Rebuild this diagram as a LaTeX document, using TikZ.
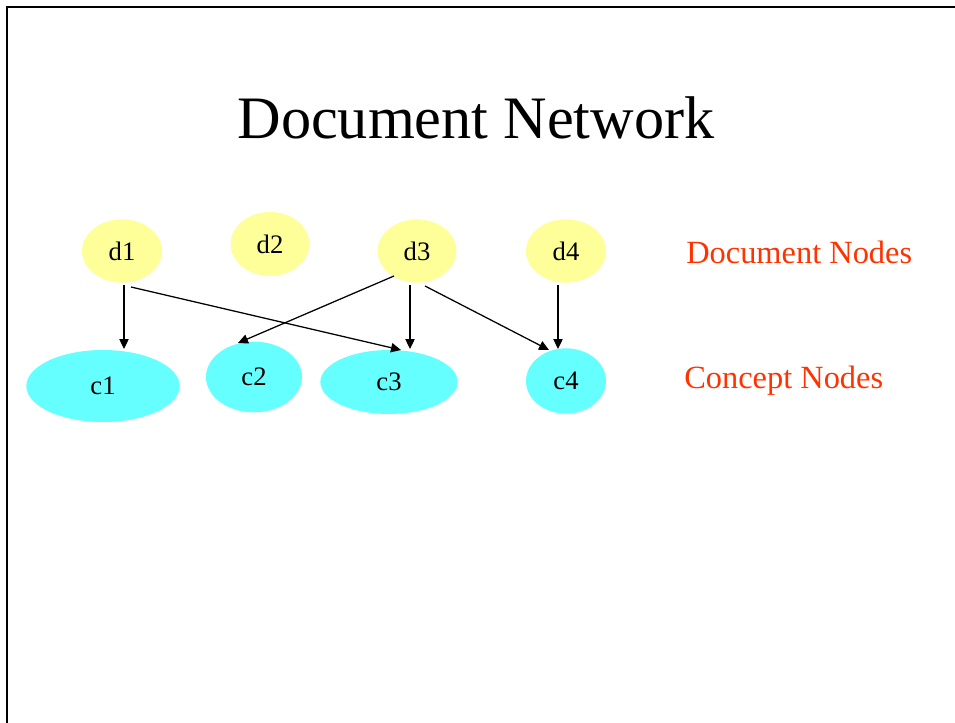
\documentclass[tikz,border=0pt]{standalone}
\usepackage{fontspec}
\setmainfont{Liberation Serif}
\usetikzlibrary{shapes.geometric,arrows.meta}
\definecolor{docfill}{HTML}{FFFF99}
\definecolor{conceptfill}{HTML}{66FFFF}
\definecolor{labelred}{HTML}{FF3300}
\tikzset{
  docnode/.style={ellipse,fill=docfill,inner sep=0pt,font=\fontsize{20}{22}\selectfont},
  conceptnode/.style={ellipse,fill=conceptfill,inner sep=0pt,font=\fontsize{20}{22}\selectfont},
  legend/.style={text=labelred,inner sep=0pt,anchor=base west,font=\fontsize{24.3}{27}\selectfont},
  arr/.style={line width=0.95pt,-{Triangle[length=7.5pt,width=7pt]}},
  frame/.style={line width=1.6pt}
}
\begin{document}
\begin{tikzpicture}[x=0.75pt,y=-0.75pt]
  \useasboundingbox (0,0) rectangle (955,723);
  % slide frame: top and left edges only
  \draw[frame] (7,723) -- (7,7) -- (955,7);

  % title
  \node[inner sep=0pt,anchor=base,font=\fontsize{45.2}{50}\selectfont] (title) at (476,139) {Document Network};

  % document nodes
  \node[docnode,minimum width=60pt,minimum height=47.5pt] (d1) at (122,251) {d1};
  \node[docnode,minimum width=59pt,minimum height=48pt] (d2) at (270,244) {d2};
  \node[docnode,minimum width=59pt,minimum height=47.5pt] (d3) at (417,251) {d3};
  \node[docnode,minimum width=60pt,minimum height=47.5pt] (d4) at (566,251) {d4};

  % concept nodes
  \node[conceptnode,minimum width=115pt,minimum height=54pt] (c1) at (103,386) {c1};
  \node[conceptnode,minimum width=72pt,minimum height=53pt] (c2) at (254,377) {c2};
  \node[conceptnode,minimum width=103pt,minimum height=48pt] (c3) at (389,382) {c3};
  \node[conceptnode,minimum width=60pt,minimum height=49pt] (c4) at (566,381) {c4};

  % legend
  \node[legend] (docs) at (686,263) {Document Nodes};
  \node[legend] (concepts) at (684,388) {Concept Nodes};

  % links from documents to concepts
  \draw[arr] ([shift={(2,34)}]d1.center) -- ([shift={(21,-37)}]c1.center);
  \draw[arr] ([shift={(9,36)}]d1.center) -- ([shift={(12,-32)}]c3.center);
  \draw[arr] ([shift={(-23,25)}]d3.center) -- ([shift={(-16,-34)}]c2.center);
  \draw[arr] ([shift={(-7,34)}]d3.center) -- ([shift={(21,-33)}]c3.center);
  \draw[arr] ([shift={(8,35)}]d3.center) -- ([shift={(-17,-31)}]c4.center);
  \draw[arr] ([shift={(-8,34)}]d4.center) -- ([shift={(-8,-32)}]c4.center);
\end{tikzpicture}
\end{document}
